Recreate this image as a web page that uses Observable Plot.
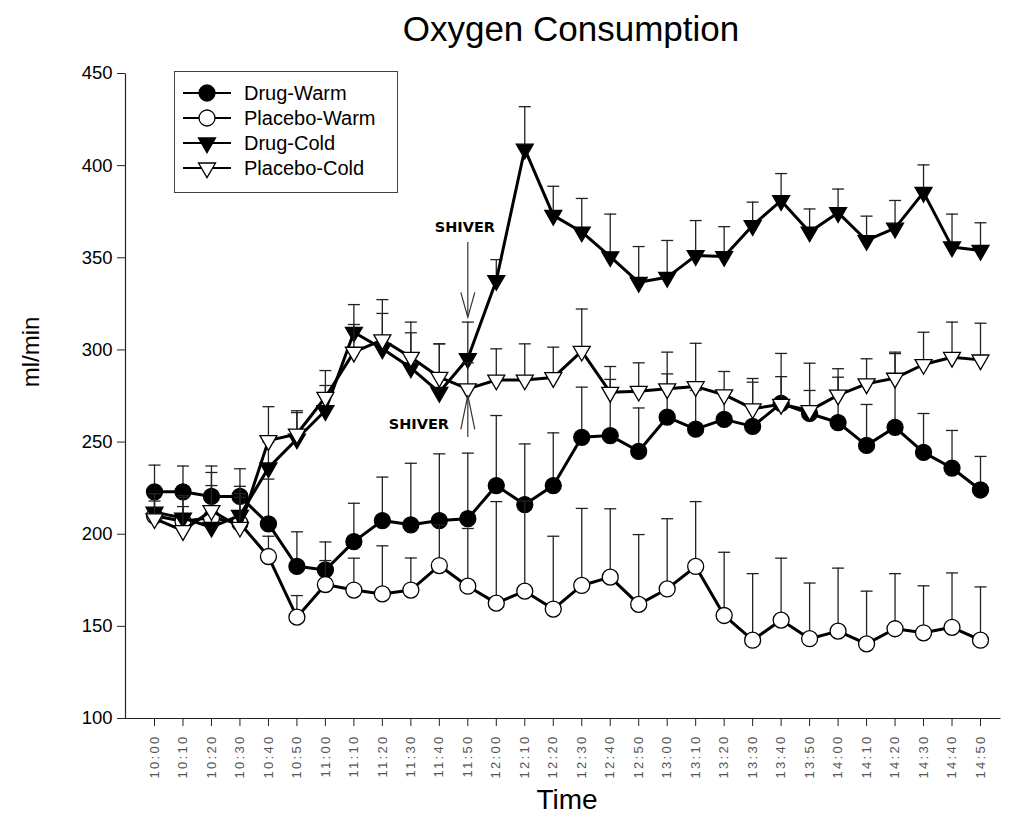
<!DOCTYPE html>
<html><head><meta charset="utf-8">
<script src="https://cdn.jsdelivr.net/npm/d3@7"></script>
<script src="https://cdn.jsdelivr.net/npm/@observablehq/plot@0.6"></script>
<style>
html,body{margin:0;padding:0;background:#fff;overflow:hidden;}
#wrap{position:relative;width:1013px;height:818px;font-family:"Liberation Sans",Arial,sans-serif;color:#000;}
#title{position:absolute;left:321px;width:500px;top:8px;text-align:center;font-size:35px;line-height:42px;}
#ylab{position:absolute;left:31px;top:352px;transform:translate(-50%,-50%) rotate(-90deg);font-size:24px;white-space:nowrap;}
#xlab{position:absolute;left:467px;width:200px;top:784px;text-align:center;font-size:28px;line-height:32px;}
#legend{position:absolute;left:174px;top:71px;}
#chart svg [aria-label="x-axis tick label"] text{letter-spacing:2.3px;fill:#555;}
</style></head>
<body><div id="wrap"><div id="chart"></div><div id="title">Oxygen Consumption</div><div id="ylab">ml/min</div><div id="xlab">Time</div><div id="legend"></div></div>
<script>
const times = ["10:00","10:10","10:20","10:30","10:40","10:50","11:00","11:10","11:20","11:30","11:40","11:50","12:00","12:10","12:20","12:30","12:40","12:50","13:00","13:10","13:20","13:30","13:40","13:50","14:00","14:10","14:20","14:30","14:40","14:50"];
const yTicks = [100,150,200,250,300,350,400,450];

const drugWarm = [223,223,220.5,220.5,205.6,182.6,180.6,196,207.4,205.1,207.4,208.4,226.4,216.1,226.4,252.6,253.5,245,263.5,257,262.3,258.5,271,265.5,260.6,248.2,258,244.4,235.9,224];
const drugWarmTop = [237.5,237,237,235.5,229.9,201.3,195.8,216.8,231,238.5,243.6,244,264.4,249,255,279.8,284,268.5,287,278,276,284.5,285.5,278,285.2,270.4,298,265.5,256.3,242.2];

const placeboWarm = [210,207,209,206,187.9,155,172.7,169.7,167.6,169.7,183,171.8,162.6,169.1,159.4,172.2,176.7,161.9,170.3,182.5,155.9,142.5,153.4,143.3,147.4,140.5,148.7,146.5,149.5,142.5];
const placeboWarmTop = [222,221,226.4,222,198.9,166.7,185.7,187,193.7,187.1,205,203.1,217.7,218,198.9,214,213.8,199.8,208.4,217.7,190.2,178.6,187,173.5,181.6,169.1,178.6,172,179,171.4];

const drugCold = [212,208.8,203.8,210.2,236,251.7,267.1,309.6,300.6,290.3,277,295.3,337.7,409,373,364,350.6,336.7,339.4,351.2,350.7,367.5,381,364,374.5,359.4,366.1,385.5,355.9,354];
const drugColdTop = [222,220,215,220,250,266,288.8,324.6,327.3,315.1,303.3,315.1,349,432,388.8,382.2,373.7,356.1,359.4,370.2,366.9,380.2,395.7,376.5,387.3,372.6,381.1,400.4,373.7,369];

const placeboCold = [208.4,202,212.9,203.8,250.8,254.4,274.3,298.8,305.5,296,285.2,278.9,283.7,283.7,285,299.3,277,277.6,278.9,280.1,275.7,268.1,270.5,267.1,275.5,281.6,284.7,292.1,296,294.6];
const placeboColdTop = [218,215,233.5,226,269.2,267,280.7,313.8,319.8,309.3,303.3,293,300.6,303.3,301.5,322.2,291,293,298.8,303.6,288.3,282.5,298.1,292.8,289.8,295.2,298.8,309.6,315.1,314.5];

const seriesNames = ["Drug-Warm","Placebo-Warm","Drug-Cold","Placebo-Cold"];
const shiverLabels = [{time:"11:50", value:366.4, dx:-3, text:"SHIVER"},{time:"11:50", value:259.5, dx:-49, text:"SHIVER"}];
const shiverArrows = [{time:"11:50", from:358.3, to:317.7, dir:"down"},{time:"11:50", from:252.5, to:275.3, dir:"up"}];

const styles = {
  "Drug-Warm":   {symbol:"circle",   fill:"black", r:8,   rotate:0},
  "Placebo-Warm":{symbol:"circle",   fill:"white", r:8,   rotate:0},
  "Drug-Cold":   {symbol:"triangle", fill:"black", r:6.3, rotate:180},
  "Placebo-Cold":{symbol:"triangle", fill:"white", r:6.3, rotate:180}
};
const valuesBy = {"Drug-Warm":[drugWarm,drugWarmTop],"Placebo-Warm":[placeboWarm,placeboWarmTop],"Drug-Cold":[drugCold,drugColdTop],"Placebo-Cold":[placeboCold,placeboColdTop]};

const capSymbol = {draw(ctx){ctx.moveTo(-6,0);ctx.lineTo(6,0);}};
const headDown = {draw(ctx){ctx.moveTo(-7,-25);ctx.lineTo(0,0);ctx.lineTo(7,-25);}};
const headUp = {draw(ctx){ctx.moveTo(-7,34);ctx.lineTo(0,0);ctx.lineTo(7,34);}};

const marks = [];
const W = 1013 - 125 - 13, H = 818 - 73 - 100;
marks.push(Plot.frame({stroke:"#222", strokeWidth:1.2, strokeDasharray:`0,${W+H},${W+H}`}));
marks.push(Plot.axisY({ticks:yTicks, tickSize:8, tickPadding:5, fontSize:18.5, label:null, stroke:"#222"}));
marks.push(Plot.axisX({tickRotate:-90, tickSize:8, tickPadding:8, fontSize:13, label:null, stroke:"#222"}));

for (const name of seriesNames) {
  const [vals, tops] = valuesBy[name];
  const rows = times.map((t,i)=>({time:t, value:vals[i], top:tops[i]}));
  const st = styles[name];
  marks.push(Plot.ruleX(rows,{x:"time", y1:"value", y2:"top", stroke:"#222", strokeWidth:1.3}));
  marks.push(Plot.dot(rows,{x:"time", y:"top", symbol:capSymbol, r:6, fill:"none", stroke:"#222", strokeWidth:1.3}));
  marks.push(Plot.line(rows,{x:"time", y:"value", stroke:"black", strokeWidth:3, strokeLinejoin:"miter"}));
  marks.push(Plot.dot(rows,{x:"time", y:"value", symbol:st.symbol, r:st.r, rotate:st.rotate, fill:st.fill, stroke:"black", strokeWidth:1.3}));
}
marks.push(Plot.ruleX(shiverArrows,{x:"time", y1:"from", y2:"to", stroke:"#333", strokeWidth:1.2}));
marks.push(Plot.dot(shiverArrows.filter(d=>d.dir==="down"),{x:"time", y:"to", symbol:headDown, r:6, fill:"none", stroke:"#333", strokeWidth:1.2}));
marks.push(Plot.dot(shiverArrows.filter(d=>d.dir==="up"),{x:"time", y:"to", symbol:headUp, r:6, fill:"none", stroke:"#333", strokeWidth:1.2}));
for (const l of shiverLabels) {
  marks.push(Plot.text([l],{x:"time", y:"value", text:"text", dx:l.dx, fontWeight:"bold", fontSize:14.5, fontFamily:"DejaVu Sans", fill:"black"}));
}

const chart = Plot.plot({
  width:1013, height:818,
  marginTop:73, marginBottom:100, marginLeft:125, marginRight:13,
  insetLeft:29, insetRight:20,
  style:{fontFamily:"'Liberation Sans', Arial, sans-serif", color:"black", background:"white"},
  x:{type:"point", domain:times, padding:0, round:false},
  y:{domain:[100,450]},
  marks
});
document.getElementById("chart").appendChild(chart);

// legend
const rowH = 25;
let svg = `<svg width="225" height="123" xmlns="http://www.w3.org/2000/svg" style="display:block">`;
svg += `<rect x="0.5" y="0.5" width="223" height="121" fill="white" stroke="#444" stroke-width="1"/>`;
seriesNames.forEach((name,i)=>{
  const cy = 22 + i*rowH, st = styles[name];
  svg += `<line x1="9" x2="57" y1="${cy}" y2="${cy}" stroke="black" stroke-width="2"/>`;
  if (st.symbol === "circle") svg += `<circle cx="33" cy="${cy}" r="8" fill="${st.fill}" stroke="black" stroke-width="1.3"/>`;
  else svg += `<path d="M24.5,${cy-5} L41.5,${cy-5} L33,${cy+9.7} Z" fill="${st.fill}" stroke="black" stroke-width="1.3"/>`;
  svg += `<text x="70" y="${cy+7}" font-size="20" font-family="'Liberation Sans', Arial, sans-serif">${name}</text>`;
});
svg += `</svg>`;
document.getElementById("legend").innerHTML = svg;
</script></body></html>
